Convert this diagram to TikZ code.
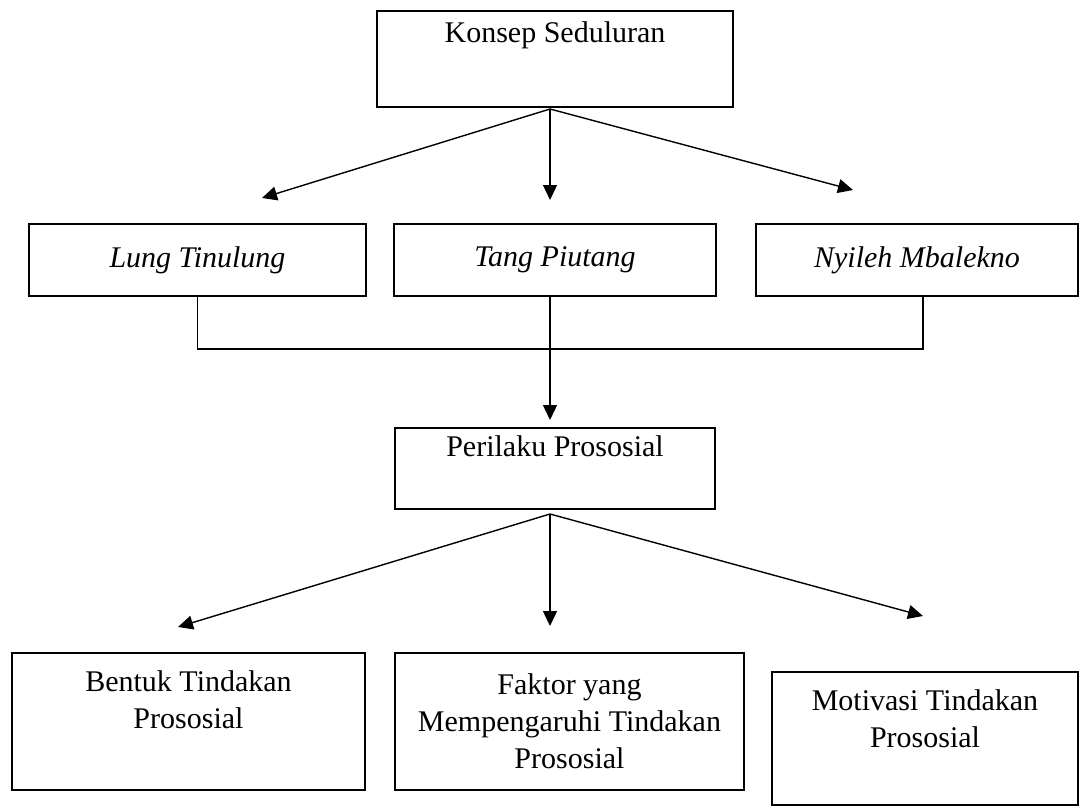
\documentclass[tikz,border=0pt]{standalone}
\usepackage{fontspec}
\setmainfont{Liberation Serif}
\usetikzlibrary{arrows.meta}

\begin{document}
\begin{tikzpicture}[x=1pt,y=-1pt,
    every node/.style={font=\fontsize{30}{37}\selectfont},
    kotak/.style={draw,line width=1.6pt,inner sep=0pt,align=center},
    garis/.style={line width=1.4pt},
    panah/.style={line width=1.4pt,-{Triangle[length=15pt,width=14pt]}},
  ]
  \useasboundingbox (0,0) rectangle (1079,806);
  % kotak atas
  \node[kotak,minimum width=356pt,minimum height=96pt] (konsep) at (555,59) {Konsep Seduluran\\[16pt]\mbox{}};
  \node[kotak,minimum width=337pt,minimum height=72pt] (lung) at (197.5,260) {\textit{Lung Tinulung}};
  \node[kotak,minimum width=322pt,minimum height=72pt] (tang) at (555,260) {\textit{Tang Piutang}};
  \node[kotak,minimum width=322pt,minimum height=72pt] (nyileh) at (917,260) {\textit{Nyileh Mbalekno}};
  \node[kotak,minimum width=320pt,minimum height=81pt] (perilaku) at (555,468.5) {Perilaku Prososial\\[8pt]\mbox{}};
  % kotak bawah
  \node[kotak,minimum width=353pt,minimum height=137pt] (bentuk) at (188.5,721.5) {Bentuk Tindakan\\Prososial\\[6pt]\mbox{}};
  \node[kotak,minimum width=349pt,minimum height=137pt] (faktor) at (569.5,721.5) {Faktor yang\\Mempengaruhi Tindakan\\Prososial};
  \node[kotak,minimum width=306pt,minimum height=133pt] (motivasi) at (925,738.5) {Motivasi Tindakan\\Prososial\\[3pt]\mbox{}};

  \coordinate (cabangA) at (550,109);
  \coordinate (ujungA1) at (262,198);
  \coordinate (ujungA2) at (550,200);
  \coordinate (ujungA3) at (853,190);
  \foreach \i in {1,2,3}
    \draw[panah] (cabangA) -- (ujungA\i);

  \coordinate (gabung) at (550,349);
  \coordinate (ujungT) at (550,420);
  \draw[garis] (lung.south) |- (gabung) -| ([xshift=6pt]nyileh.south);
  \draw[panah] ([xshift=-5pt]tang.south) -- (ujungT);

  \coordinate (cabangB) at (550,514);
  \coordinate (ujungB1) at (178,627);
  \coordinate (ujungB2) at (550,626);
  \coordinate (ujungB3) at (923,616);
  \foreach \i in {1,2,3}
    \draw[panah] (cabangB) -- (ujungB\i);
\end{tikzpicture}
\end{document}
